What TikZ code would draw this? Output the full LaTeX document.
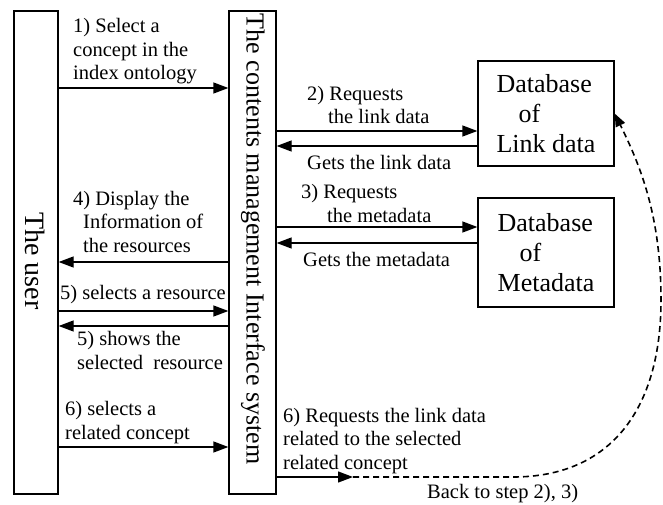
\documentclass[tikz,border=0pt]{standalone}
\usepackage{fontspec}
\setmainfont{Liberation Serif}
\usetikzlibrary{arrows.meta}
\begin{document}
\begin{tikzpicture}[x=1pt,y=-1pt,
  box/.style={draw, line width=1.3pt, inner sep=0pt},
  dbbox/.style={box, minimum width=136pt, align=left, font=\fontsize{26}{30}\selectfont},
  arr/.style={line width=1.3pt, -{Triangle[length=15pt,width=11pt]}},
  dasharr/.style={line width=1.6pt, dash pattern=on 6pt off 4pt, -{Triangle[length=13pt,width=10pt]}},
  lbl/.style={font=\fontsize{20.5}{23.5}\selectfont, inner sep=0pt, align=left, anchor=base west},
  vlbl/.style={rotate=-90, inner sep=0pt},
]
\useasboundingbox (0,0) rectangle (663,505);
% boxes
\node[box, minimum width=44pt, minimum height=483pt] (user) at (36,252.5) {};
\node[vlbl, font=\fontsize{28}{30}\selectfont] (userlbl) at (35,261) {The user};
\node[box, minimum width=47pt, minimum height=483pt] (sys) at (252.5,252.5) {};
\node[vlbl, font=\fontsize{26}{30}\selectfont] (syslbl) at (253,239) {The contents management Interface system};
\node[dbbox, minimum height=105pt] (db1) at (546,113.5) {Database\\\hspace*{22pt}of\\Link data};
\node[dbbox, minimum height=109pt] (db2) at (546,252.5) {Database\\\hspace*{22pt}of\\Metadata};
% arrows
\draw[arr] (user.east |- 0,88) -- (sys.west |- 0,88);
\draw[arr] (sys.east |- 0,131) -- (db1.west |- 0,131);
\draw[arr] (db1.west |- 0,146) -- (sys.east |- 0,146);
\draw[arr] (sys.east |- 0,227) -- (db2.west |- 0,227);
\draw[arr] (db2.west |- 0,243) -- (sys.east |- 0,243);
\draw[arr] (sys.west |- 0,262) -- (user.east |- 0,262);
\draw[arr] (user.east |- 0,311) -- (sys.west |- 0,311);
\draw[arr] (sys.west |- 0,326) -- (user.east |- 0,326);
\draw[arr] (user.east |- 0,447) -- (sys.west |- 0,447);
\coordinate (c7) at (353,477);
\draw[arr] (sys.east |- c7) -- (c7);
\draw[dasharr] (c7) -- (513,477) .. controls (610,477) and (661,410) .. (661,300)
  .. controls (661,215) and (640,165) .. (db1.east);
% labels (anchor = baseline of the last line)
\node[lbl] (l1) at (73,80) {1) Select a\\concept in the\\index ontology};
\node[lbl] (l2) at (307,124) {2) Requests\\\hspace*{21pt}the link data};
\node[lbl] (l2b) at (307,169) {Gets the link data};
\node[lbl] (l3) at (301,222) {3) Requests\\\hspace*{26pt}the metadata};
\node[lbl] (l3b) at (303,266) {Gets the metadata};
\node[lbl] (l4) at (73,252) {4) Display the\\\hspace*{10pt}Information of\\\hspace*{10pt}the resources};
\node[lbl] (l5) at (60,299) {5) selects a resource};
\node[lbl] (l5b) at (77,369) {5) shows the\\selected\ \ resource};
\node[lbl] (l6) at (65,439) {6) selects a\\related concept};
\node[lbl] (l7) at (283,469) {6) Requests the link data\\related to the selected\\related concept};
\node[lbl] (back) at (427,498) {Back to step 2), 3)};
\end{tikzpicture}
\end{document}
